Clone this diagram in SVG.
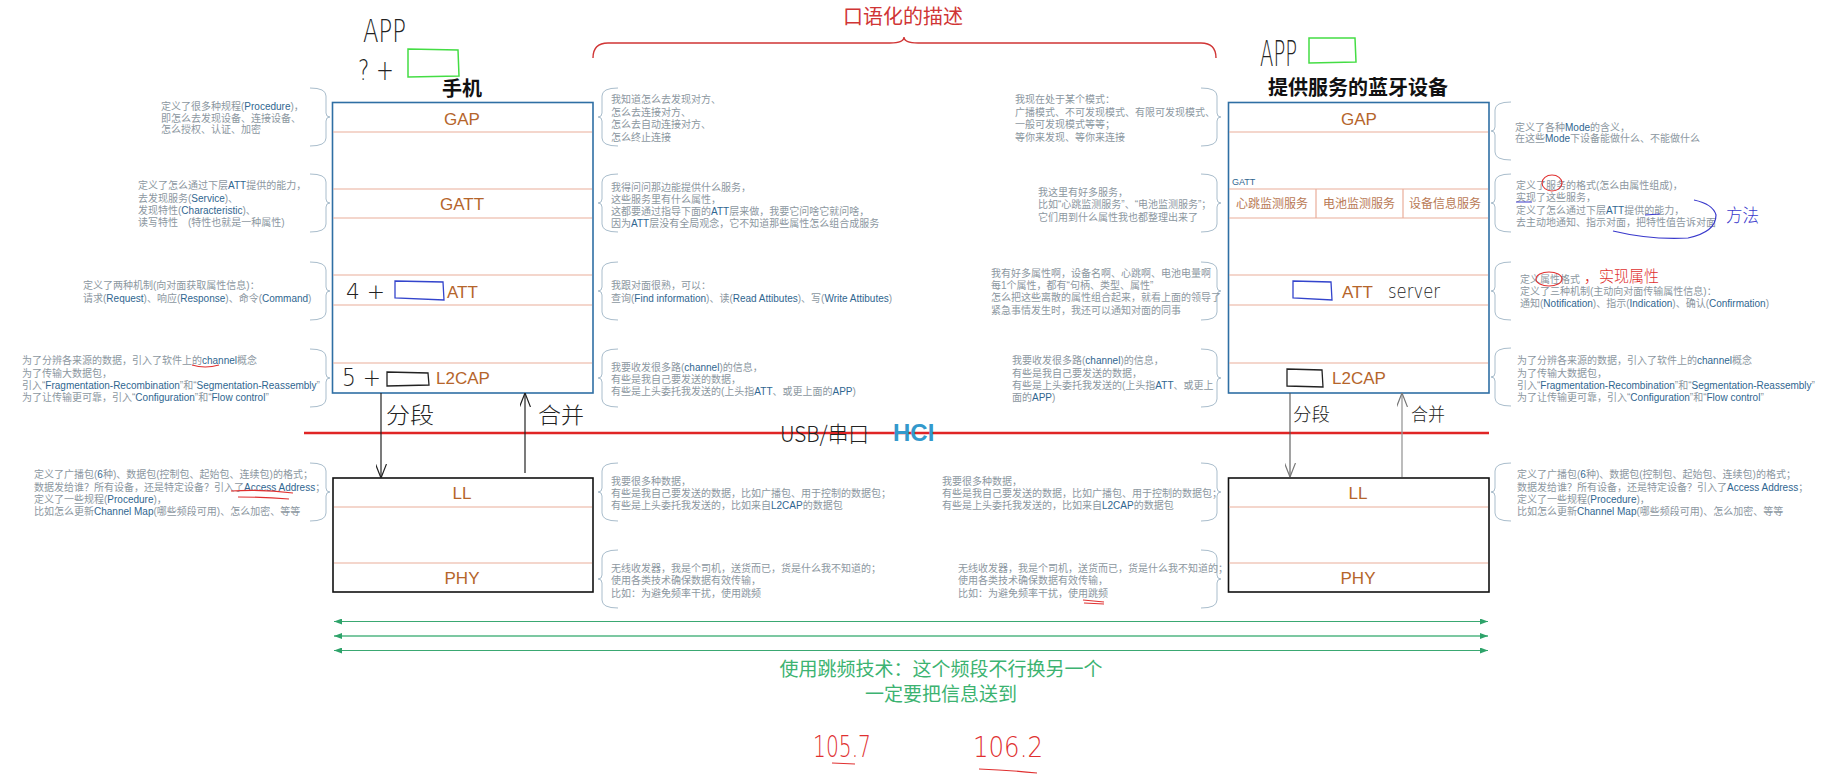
<svg xmlns="http://www.w3.org/2000/svg" xmlns:xlink="http://www.w3.org/1999/xlink" width="1824" height="781" viewBox="0 0 1824 781">
<style>
.d{font-family:"Liberation Sans","Noto Sans CJK SC",sans-serif;font-size:10px;fill:#8c979f}
.e{fill:#2f6690}
.lay{font-family:"Liberation Sans",Arial,sans-serif;font-size:17px;fill:#b5652b;text-anchor:middle}
.lays{font-family:"Liberation Sans",Arial,sans-serif;font-size:17px;fill:#b5652b;text-anchor:start}
.svc{font-family:"Noto Sans CJK SC",sans-serif;font-size:12px;fill:#b97a55;text-anchor:middle}
.row{stroke:#eaae9a;stroke-width:1.2}
.br{fill:none;stroke:#a9bdcc;stroke-width:1}
.hw{font-family:"DejaVu Sans","Noto Sans CJK SC",sans-serif;font-weight:200;fill:#222}
.hwc{font-family:"Noto Sans CJK SC",sans-serif;font-weight:300;fill:#222}
.title{font-family:"Noto Sans CJK SC",sans-serif;font-size:20px;font-weight:bold;fill:#111;text-anchor:middle}
</style>
<defs>
<path id="bR" d="M0,0 Q16,0 16,8 L16,25 Q16,29 20,29 Q16,29 16,33 L16,50 Q16,58 0,58"/>
<path id="bL" d="M20,0 Q4,0 4,8 L4,25 Q4,29 0,29 Q4,29 4,33 L4,50 Q4,58 20,58"/>
<marker id="vk" viewBox="0 0 14 11" refX="14" refY="5.5" markerWidth="14" markerHeight="11" orient="auto" markerUnits="userSpaceOnUse"><path d="M0,0 L14,5.5 L0,11" fill="none" stroke="#222" stroke-width="1.2"/></marker>
<marker id="vg" viewBox="0 0 14 11" refX="14" refY="5.5" markerWidth="14" markerHeight="11" orient="auto" markerUnits="userSpaceOnUse"><path d="M0,0 L14,5.5 L0,11" fill="none" stroke="#777" stroke-width="1.2"/></marker>
<marker id="ga" viewBox="0 0 8 6" refX="8" refY="3" markerWidth="8" markerHeight="6" orient="auto-start-reverse" markerUnits="userSpaceOnUse"><path d="M0,0 L8,3 L0,6 z" fill="#2ea36a"/></marker>
</defs>
<rect width="1824" height="781" fill="#fff"/>

<!-- top heading -->
<g id="heading">
<text x="903" y="24" font-family="Noto Sans CJK SC,sans-serif" font-size="20" fill="#d03535" text-anchor="middle">口语化的描述</text>
<path d="M593,58 Q593,43 608,43 L890,43 Q904,43 904,37 Q904,43 918,43 L1201,43 Q1216,43 1216,58" fill="none" stroke="#d03535" stroke-width="1.4"/>
</g>

<!-- phone stack -->
<g id="phone">
<text class="title" x="462" y="96">手机</text>
<rect x="332.5" y="102.5" width="260.5" height="290.5" fill="#fff" stroke="#2f6fa4" stroke-width="1.6"/>
<line class="row" x1="333" y1="132" x2="592" y2="132"/>
<line class="row" x1="333" y1="189" x2="592" y2="189"/>
<line class="row" x1="333" y1="218" x2="592" y2="218"/>
<line class="row" x1="333" y1="275" x2="592" y2="275"/>
<line class="row" x1="333" y1="305" x2="592" y2="305"/>
<line class="row" x1="333" y1="363" x2="592" y2="363"/>
<text class="lay" x="462" y="125">GAP</text>
<text class="lay" x="462" y="210">GATT</text>
<text class="lays" x="447" y="298">ATT</text>
<text class="lays" x="436" y="384">L2CAP</text>
</g>
<g id="phone-ll">
<rect x="333" y="478" width="260" height="114" fill="#fff" stroke="#111" stroke-width="1.6"/>
<line class="row" x1="334" y1="507" x2="592" y2="507"/>
<line class="row" x1="334" y1="563" x2="592" y2="563"/>
<text class="lay" x="462" y="499">LL</text>
<text class="lay" x="462" y="584">PHY</text>
</g>

<!-- device stack -->
<g id="device">
<text class="title" x="1358" y="95">提供服务的蓝牙设备</text>
<rect x="1228.5" y="102.5" width="260.5" height="290.5" fill="#fff" stroke="#2f6fa4" stroke-width="1.6"/>
<line class="row" x1="1229" y1="132" x2="1488" y2="132"/>
<line class="row" x1="1229" y1="189" x2="1488" y2="189"/>
<line class="row" x1="1229" y1="218" x2="1488" y2="218"/>
<line class="row" x1="1316" y1="189" x2="1316" y2="218"/>
<line class="row" x1="1403" y1="189" x2="1403" y2="218"/>
<line class="row" x1="1229" y1="275" x2="1488" y2="275"/>
<line class="row" x1="1229" y1="305" x2="1488" y2="305"/>
<line class="row" x1="1229" y1="363" x2="1488" y2="363"/>
<text class="lay" x="1359" y="125">GAP</text>
<text x="1232" y="185" font-family="Liberation Sans,sans-serif" font-size="9" fill="#2f6690">GATT</text>
<text class="svc" x="1272" y="208">心跳监测服务</text>
<text class="svc" x="1359" y="208">电池监测服务</text>
<text class="svc" x="1445" y="208">设备信息服务</text>
<text class="lays" x="1342" y="298">ATT</text>
<text class="lays" x="1332" y="384">L2CAP</text>
</g>
<g id="device-ll">
<rect x="1228.5" y="478" width="260.5" height="114" fill="#fff" stroke="#111" stroke-width="1.6"/>
<line class="row" x1="1229" y1="507" x2="1488" y2="507"/>
<line class="row" x1="1229" y1="563" x2="1488" y2="563"/>
<text class="lay" x="1358" y="499">LL</text>
<text class="lay" x="1358" y="584">PHY</text>
</g>

<!-- braces -->
<g id="braces" class="br">
<use href="#bR" x="310" y="88"/>
<use href="#bR" x="310" y="174"/>
<use href="#bR" x="310" y="262"/>
<use href="#bR" x="310" y="349"/>
<use href="#bR" x="310" y="463"/>
<use href="#bL" x="598" y="88"/>
<use href="#bL" x="598" y="174"/>
<use href="#bL" x="598" y="262"/>
<use href="#bL" x="598" y="349"/>
<use href="#bL" x="598" y="463"/>
<use href="#bL" x="598" y="550"/>
<use href="#bR" x="1201" y="88"/>
<use href="#bR" x="1201" y="174"/>
<use href="#bR" x="1201" y="262"/>
<use href="#bR" x="1201" y="349"/>
<use href="#bR" x="1201" y="463"/>
<use href="#bR" x="1201" y="550"/>
<use href="#bL" x="1491" y="102"/>
<use href="#bL" x="1491" y="174"/>
<use href="#bL" x="1491" y="262"/>
<use href="#bL" x="1491" y="348"/>
<use href="#bL" x="1491" y="463"/>
</g>

<!-- left column descriptions -->
<g id="desc-left">
<text class="d"><tspan x="161" y="109.5">定义了很多种规程(<tspan class="e">Procedure</tspan>)，</tspan><tspan x="161" y="121.5">即怎么去发现设备、连接设备、</tspan><tspan x="161" y="132.5">怎么授权、认证、加密</tspan></text>
<text class="d"><tspan x="138" y="188.5">定义了怎么通过下层<tspan class="e">ATT</tspan>提供的能力，</tspan><tspan x="138" y="201.5">去发现服务(<tspan class="e">Service</tspan>)、</tspan><tspan x="138" y="213.5">发现特性(<tspan class="e">Characteristic</tspan>)、</tspan><tspan x="138" y="225.5">读写特性　(特性也就是一种属性)</tspan></text>
<text class="d"><tspan x="83" y="288.5">定义了两种机制(向对面获取属性信息)：</tspan><tspan x="83" y="301.5">请求(<tspan class="e">Request</tspan>)、响应(<tspan class="e">Response</tspan>)、命令(<tspan class="e">Command</tspan>)</tspan></text>
<text class="d"><tspan x="22" y="363.5">为了分辨各来源的数据，引入了软件上的<tspan class="e">channel</tspan>概念</tspan><tspan x="22" y="376.5">为了传输大数据包，</tspan><tspan x="22" y="388.5">引入“<tspan class="e">Fragmentation-Recombination</tspan>”和“<tspan class="e">Segmentation-Reassembly</tspan>”</tspan><tspan x="22" y="400.5">为了让传输更可靠，引入“<tspan class="e">Configuration</tspan>”和“<tspan class="e">Flow control</tspan>”</tspan></text>
<text class="d"><tspan x="34" y="477.5">定义了广播包(<tspan class="e">6</tspan>种)、数据包(控制包、起始包、连续包)的格式；</tspan><tspan x="34" y="490.5">数据发给谁？所有设备，还是特定设备？引入了<tspan class="e">Access Address</tspan>；</tspan><tspan x="34" y="502.5">定义了一些规程(<tspan class="e">Procedure</tspan>)，</tspan><tspan x="34" y="514.5">比如怎么更新<tspan class="e">Channel Map</tspan>(哪些频段可用)、怎么加密、等等</tspan></text>
</g>

<!-- middle descriptions -->
<g id="desc-mid-left">
<text class="d"><tspan x="611" y="102.5">我知道怎么去发现对方、</tspan><tspan x="611" y="115.5">怎么去连接对方、</tspan><tspan x="611" y="127.5">怎么去自动连接对方、</tspan><tspan x="611" y="140.5">怎么终止连接</tspan></text>
<text class="d"><tspan x="611" y="190.5">我得问问那边能提供什么服务，</tspan><tspan x="611" y="202.5">这些服务里有什么属性，</tspan><tspan x="611" y="214.5">这都要通过指导下面的<tspan class="e">ATT</tspan>层来做，我要它问啥它就问啥，</tspan><tspan x="611" y="226.5">因为<tspan class="e">ATT</tspan>层没有全局观念，它不知道那些属性怎么组合成服务</tspan></text>
<text class="d"><tspan x="611" y="288.5">我跟对面很熟，可以：</tspan><tspan x="611" y="301.5">查询(<tspan class="e">Find information</tspan>)、读(<tspan class="e">Read Attibutes</tspan>)、写(<tspan class="e">Write Attibutes</tspan>)</tspan></text>
<text class="d"><tspan x="611" y="370.5">我要收发很多路(<tspan class="e">channel</tspan>)的信息，</tspan><tspan x="611" y="382.5">有些是我自己要发送的数据，</tspan><tspan x="611" y="394.5">有些是上头委托我发送的(上头指<tspan class="e">ATT</tspan>、或更上面的<tspan class="e">APP</tspan>)</tspan></text>
<text class="d"><tspan x="611" y="484.5">我要很多种数据，</tspan><tspan x="611" y="496.5">有些是我自己要发送的数据，比如广播包、用于控制的数据包；</tspan><tspan x="611" y="508.5">有些是上头委托我发送的，比如来自<tspan class="e">L2CAP</tspan>的数据包</tspan></text>
<text class="d"><tspan x="611" y="571.5">无线收发器，我是个司机，送货而已，货是什么我不知道的；</tspan><tspan x="611" y="583.5">使用各类技术确保数据有效传输，</tspan><tspan x="611" y="596.5">比如：为避免频率干扰，使用跳频</tspan></text>
</g>
<g id="desc-mid-right">
<text class="d"><tspan x="1015" y="102.5">我现在处于某个模式：</tspan><tspan x="1015" y="115.5">广播模式、不可发现模式、有限可发现模式、</tspan><tspan x="1015" y="127.5">一般可发现模式等等；</tspan><tspan x="1015" y="140.5">等你来发现、等你来连接</tspan></text>
<text class="d"><tspan x="1038" y="196">我这里有好多服务，</tspan><tspan x="1038" y="208">比如“心跳监测服务”、“电池监测服务”；</tspan><tspan x="1038" y="220.5">它们用到什么属性我也都整理出来了</tspan></text>
<text class="d"><tspan x="991" y="276.5">我有好多属性啊，设备名啊、心跳啊、电池电量啊</tspan><tspan x="991" y="288.5">每1个属性，都有“句柄、类型、属性”</tspan><tspan x="991" y="300.5">怎么把这些离散的属性组合起来，就看上面的领导了</tspan><tspan x="991" y="313.5">紧急事情发生时，我还可以通知对面的同事</tspan></text>
<text class="d"><tspan x="1012" y="363.5">我要收发很多路(<tspan class="e">channel</tspan>)的信息，</tspan><tspan x="1012" y="376.5">有些是我自己要发送的数据，</tspan><tspan x="1012" y="388.5">有些是上头委托我发送的(上头指<tspan class="e">ATT</tspan>、或更上</tspan><tspan x="1012" y="400.5">面的<tspan class="e">APP</tspan>)</tspan></text>
<text class="d"><tspan x="942" y="484.5">我要很多种数据，</tspan><tspan x="942" y="496.5">有些是我自己要发送的数据，比如广播包、用于控制的数据包；</tspan><tspan x="942" y="508.5">有些是上头委托我发送的，比如来自<tspan class="e">L2CAP</tspan>的数据包</tspan></text>
<text class="d"><tspan x="958" y="571.5">无线收发器，我是个司机，送货而已，货是什么我不知道的；</tspan><tspan x="958" y="583.5">使用各类技术确保数据有效传输，</tspan><tspan x="958" y="596.5">比如：为避免频率干扰，使用跳频</tspan></text>
</g>

<!-- right column descriptions -->
<g id="desc-right">
<text class="d"><tspan x="1515" y="130.5">定义了各种<tspan class="e">Mode</tspan>的含义，</tspan><tspan x="1515" y="141.5">在这些<tspan class="e">Mode</tspan>下设备能做什么、不能做什么</tspan></text>
<text class="d"><tspan x="1516" y="188.5">定义了服务的格式(怎么由属性组成)，</tspan><tspan x="1516" y="200.5">实现了这些服务，</tspan><tspan x="1516" y="213.5">定义了怎么通过下层<tspan class="e">ATT</tspan>提供的能力，</tspan><tspan x="1516" y="225.5">去主动地通知、指示对面，把特性值告诉对面</tspan></text>
<text class="d"><tspan x="1520" y="282.5">定义属性格式</tspan><tspan x="1520" y="294.5">定义了三种机制(主动向对面传输属性信息)：</tspan><tspan x="1520" y="306.5">通知(<tspan class="e">Notification</tspan>)、指示(<tspan class="e">Indication</tspan>)、确认(<tspan class="e">Confirmation</tspan>)</tspan></text>
<text class="d"><tspan x="1517" y="363.5">为了分辨各来源的数据，引入了软件上的<tspan class="e">channel</tspan>概念</tspan><tspan x="1517" y="376.5">为了传输大数据包，</tspan><tspan x="1517" y="388.5">引入“<tspan class="e">Fragmentation-Recombination</tspan>”和“<tspan class="e">Segmentation-Reassembly</tspan>”</tspan><tspan x="1517" y="400.5">为了让传输更可靠，引入“<tspan class="e">Configuration</tspan>”和“<tspan class="e">Flow control</tspan>”</tspan></text>
<text class="d"><tspan x="1517" y="477.5">定义了广播包(<tspan class="e">6</tspan>种)、数据包(控制包、起始包、连续包)的格式；</tspan><tspan x="1517" y="490.5">数据发给谁？所有设备，还是特定设备？引入了<tspan class="e">Access Address</tspan>；</tspan><tspan x="1517" y="502.5">定义了一些规程(<tspan class="e">Procedure</tspan>)，</tspan><tspan x="1517" y="514.5">比如怎么更新<tspan class="e">Channel Map</tspan>(哪些频段可用)、怎么加密、等等</tspan></text>
</g>

<!-- HCI -->
<g id="hci">
<line x1="304" y1="433" x2="1489" y2="433" stroke="#e02525" stroke-width="2.4"/>
<text class="hwc" x="780" y="442" font-size="22" textLength="89" lengthAdjust="spacingAndGlyphs">USB/串口</text>
<text x="893" y="441" font-family="Liberation Sans,sans-serif" font-weight="bold" font-size="24" fill="#3399cc">HCI</text>
</g>

<!-- connectors -->
<g id="connectors" fill="none">
<line x1="381" y1="393" x2="381" y2="478" stroke="#222" stroke-width="1.2" marker-end="url(#vk)"/>
<line x1="525" y1="473" x2="525" y2="393" stroke="#222" stroke-width="1.2" marker-end="url(#vk)"/>
<line x1="1290" y1="393" x2="1290" y2="477" stroke="#555" stroke-width="1.1" marker-end="url(#vg)"/>
<line x1="1402" y1="477" x2="1402" y2="393" stroke="#999" stroke-width="1.3" marker-end="url(#vg)"/>
<line x1="334" y1="621.5" x2="1488" y2="621.5" stroke="#3aa872" stroke-width="1.2" marker-start="url(#ga)" marker-end="url(#ga)"/>
<line x1="334" y1="636" x2="1488" y2="636" stroke="#7cc8a2" stroke-width="2" marker-start="url(#ga)" marker-end="url(#ga)"/>
<line x1="334" y1="650.5" x2="1488" y2="650.5" stroke="#3aa872" stroke-width="1.2" marker-start="url(#ga)" marker-end="url(#ga)"/>
</g>

<!-- green caption -->
<g id="caption">
<text x="941" y="676" font-family="Noto Sans CJK SC,sans-serif" font-size="19" fill="#3cb371" text-anchor="middle">使用跳频技术：这个频段不行换另一个</text>
<text x="941" y="701" font-family="Noto Sans CJK SC,sans-serif" font-size="19" fill="#3cb371" text-anchor="middle">一定要把信息送到</text>
</g>

<!-- handwritten annotations -->
<g id="notes">
<text class="hw" x="363" y="42" font-size="32" textLength="43" lengthAdjust="spacingAndGlyphs">APP</text>
<text class="hw" x="358" y="80" font-size="28" textLength="36" lengthAdjust="spacingAndGlyphs">? +</text>
<polygon points="408,49 458,50 459,76 408,77" fill="none" stroke="#44dd44" stroke-width="1.5"/>
<text class="hw" x="1260" y="66" font-size="36" textLength="37" lengthAdjust="spacingAndGlyphs">APP</text>
<polygon points="1309,38 1355,38 1356,62 1309,63" fill="none" stroke="#44dd44" stroke-width="1.5"/>

<text class="hw" x="346" y="299" font-size="22" textLength="39" lengthAdjust="spacingAndGlyphs">4 +</text>
<polygon points="395,281 443,282 444,300 395,298" fill="none" stroke="#3344cc" stroke-width="1.3"/>
<text class="hw" x="342" y="386" font-size="24" textLength="39" lengthAdjust="spacingAndGlyphs">5 +</text>
<polygon points="387,372 428,373 429,385 387,386" fill="none" stroke="#222" stroke-width="1.3"/>

<polygon points="1293,281 1331,282 1332,300 1293,298" fill="none" stroke="#3344cc" stroke-width="1.3"/>
<text class="hw" x="1388" y="298" font-size="20" textLength="52" lengthAdjust="spacingAndGlyphs">server</text>
<polygon points="1287,369 1322,370 1323,387 1287,386" fill="none" stroke="#222" stroke-width="1.3"/>

<text class="hwc" x="386" y="423" font-size="22" textLength="48" lengthAdjust="spacingAndGlyphs">分段</text>
<text class="hwc" x="538" y="423" font-size="22" textLength="46" lengthAdjust="spacingAndGlyphs">合并</text>
<text class="hwc" x="1293" y="421" font-size="18" textLength="37" lengthAdjust="spacingAndGlyphs">分段</text>
<text class="hwc" x="1411" y="421" font-size="18" textLength="34" lengthAdjust="spacingAndGlyphs">合并</text>

<path d="M192,365 Q205,369 219,365" fill="none" stroke="#e03030" stroke-width="1.2"/>
<path d="M231,491 Q262,489 293,493 M238,497 Q265,497 289,499" fill="none" stroke="#e03030" stroke-width="1.2"/>
<path d="M1083,600 L1104,602 M1084,603 L1104,604" fill="none" stroke="#e03030" stroke-width="1.1"/>

<ellipse cx="1552" cy="183" rx="10" ry="8" fill="none" stroke="#e03030" stroke-width="1.1"/>
<path d="M1516,202 L1532,202 M1645,215 L1660,214" fill="none" stroke="#3a3acc" stroke-width="1.1"/>
<path d="M1613,231 Q1650,240 1688,238 Q1716,232 1716,215 Q1713,204 1694,200" fill="none" stroke="#3a3acc" stroke-width="1.2"/>
<text class="hwc" x="1726" y="222" font-size="18" style="fill:#3a3acc" textLength="33" lengthAdjust="spacingAndGlyphs">方法</text>

<ellipse cx="1549" cy="279" rx="13" ry="7" fill="none" stroke="#e03030" stroke-width="1.1"/>
<text class="hwc" x="1584" y="282" font-size="16" style="fill:#e03030" textLength="75" lengthAdjust="spacingAndGlyphs">，实现属性</text>

<text class="hw" x="813" y="757" font-size="30" style="fill:#e03030" textLength="58" lengthAdjust="spacingAndGlyphs">105.7</text>
<path d="M832,763 L855,764" stroke="#e03030" stroke-width="1.2"/>
<text class="hw" x="973" y="757" font-size="28" style="fill:#e03030" textLength="70" lengthAdjust="spacingAndGlyphs">106.2</text>
<path d="M979,769 Q1008,770 1037,773" fill="none" stroke="#e03030" stroke-width="1.2"/>
</g>
</svg>
